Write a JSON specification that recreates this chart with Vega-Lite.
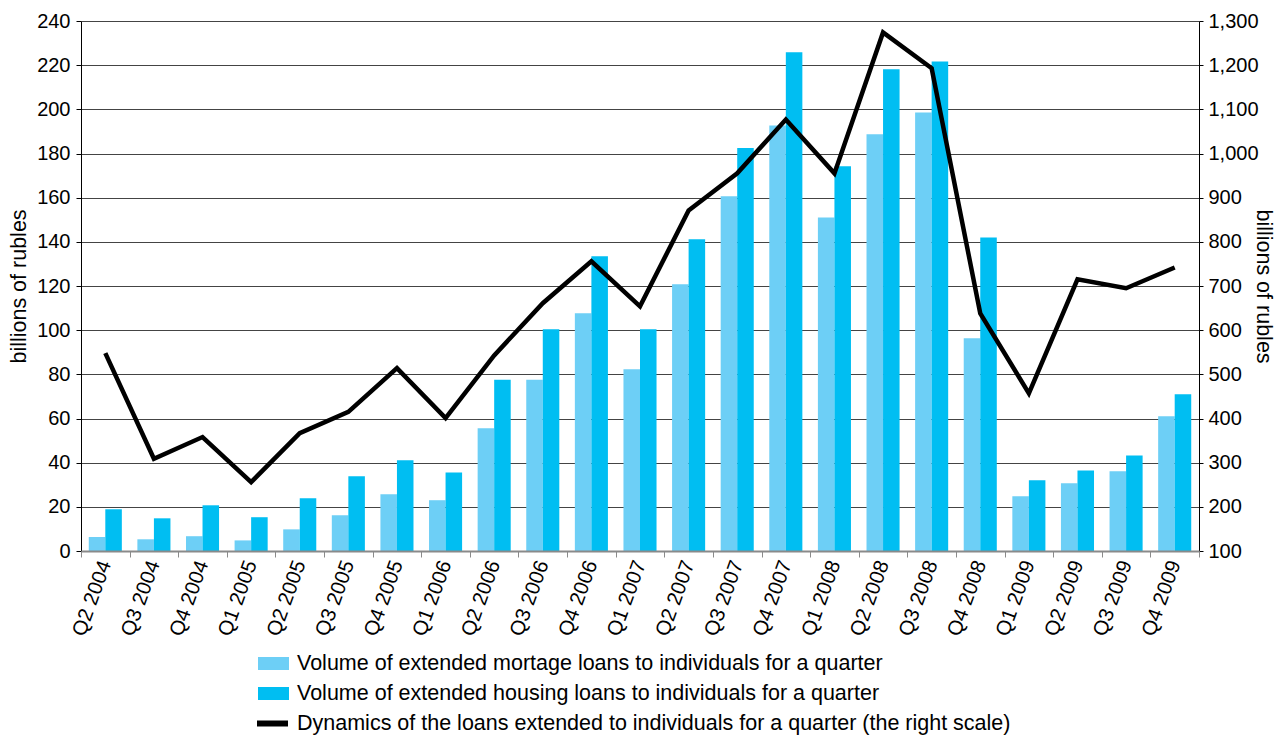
{
  "$schema": "https://vega.github.io/schema/vega-lite/v6.json",
  "width": 1118,
  "height": 530,
  "autosize": {"type": "none"},
  "padding": {"left": 81, "top": 21, "right": 84, "bottom": 184},
  "background": "white",
  "config": {
    "view": {"stroke": null},
    "font": "Liberation Sans",
    "axis": {"labelColor": "#000000", "titleColor": "#000000", "labelFontSize": 20, "titleFontSize": 21.5, "titleFontWeight": "normal", "labelFont": "Liberation Sans", "titleFont": "Liberation Sans"},
    "legend": {"labelFont": "Liberation Sans", "labelFontSize": 21.5, "labelColor": "#000000", "labelLimit": 0}
  },
  "datasets": {
    "bars": [
      {"quarter": "Q2 2004", "series": "Volume of extended mortage loans to individuals for a quarter", "value": 6.3},
      {"quarter": "Q2 2004", "series": "Volume of extended housing loans to individuals for a quarter", "value": 18.9},
      {"quarter": "Q3 2004", "series": "Volume of extended mortage loans to individuals for a quarter", "value": 5.3},
      {"quarter": "Q3 2004", "series": "Volume of extended housing loans to individuals for a quarter", "value": 14.8},
      {"quarter": "Q4 2004", "series": "Volume of extended mortage loans to individuals for a quarter", "value": 6.7},
      {"quarter": "Q4 2004", "series": "Volume of extended housing loans to individuals for a quarter", "value": 20.7},
      {"quarter": "Q1 2005", "series": "Volume of extended mortage loans to individuals for a quarter", "value": 4.8},
      {"quarter": "Q1 2005", "series": "Volume of extended housing loans to individuals for a quarter", "value": 15.3},
      {"quarter": "Q2 2005", "series": "Volume of extended mortage loans to individuals for a quarter", "value": 9.8},
      {"quarter": "Q2 2005", "series": "Volume of extended housing loans to individuals for a quarter", "value": 23.9},
      {"quarter": "Q3 2005", "series": "Volume of extended mortage loans to individuals for a quarter", "value": 16.2},
      {"quarter": "Q3 2005", "series": "Volume of extended housing loans to individuals for a quarter", "value": 33.8},
      {"quarter": "Q4 2005", "series": "Volume of extended mortage loans to individuals for a quarter", "value": 25.7},
      {"quarter": "Q4 2005", "series": "Volume of extended housing loans to individuals for a quarter", "value": 41.1},
      {"quarter": "Q1 2006", "series": "Volume of extended mortage loans to individuals for a quarter", "value": 23.0},
      {"quarter": "Q1 2006", "series": "Volume of extended housing loans to individuals for a quarter", "value": 35.6},
      {"quarter": "Q2 2006", "series": "Volume of extended mortage loans to individuals for a quarter", "value": 55.6},
      {"quarter": "Q2 2006", "series": "Volume of extended housing loans to individuals for a quarter", "value": 77.5},
      {"quarter": "Q3 2006", "series": "Volume of extended mortage loans to individuals for a quarter", "value": 77.5},
      {"quarter": "Q3 2006", "series": "Volume of extended housing loans to individuals for a quarter", "value": 100.4},
      {"quarter": "Q4 2006", "series": "Volume of extended mortage loans to individuals for a quarter", "value": 107.7},
      {"quarter": "Q4 2006", "series": "Volume of extended housing loans to individuals for a quarter", "value": 133.5},
      {"quarter": "Q1 2007", "series": "Volume of extended mortage loans to individuals for a quarter", "value": 82.3},
      {"quarter": "Q1 2007", "series": "Volume of extended housing loans to individuals for a quarter", "value": 100.4},
      {"quarter": "Q2 2007", "series": "Volume of extended mortage loans to individuals for a quarter", "value": 120.8},
      {"quarter": "Q2 2007", "series": "Volume of extended housing loans to individuals for a quarter", "value": 141.2},
      {"quarter": "Q3 2007", "series": "Volume of extended mortage loans to individuals for a quarter", "value": 160.6},
      {"quarter": "Q3 2007", "series": "Volume of extended housing loans to individuals for a quarter", "value": 182.5},
      {"quarter": "Q4 2007", "series": "Volume of extended mortage loans to individuals for a quarter", "value": 192.7},
      {"quarter": "Q4 2007", "series": "Volume of extended housing loans to individuals for a quarter", "value": 225.8},
      {"quarter": "Q1 2008", "series": "Volume of extended mortage loans to individuals for a quarter", "value": 151.0},
      {"quarter": "Q1 2008", "series": "Volume of extended housing loans to individuals for a quarter", "value": 174.2},
      {"quarter": "Q2 2008", "series": "Volume of extended mortage loans to individuals for a quarter", "value": 188.7},
      {"quarter": "Q2 2008", "series": "Volume of extended housing loans to individuals for a quarter", "value": 218.1},
      {"quarter": "Q3 2008", "series": "Volume of extended mortage loans to individuals for a quarter", "value": 198.6},
      {"quarter": "Q3 2008", "series": "Volume of extended housing loans to individuals for a quarter", "value": 221.7},
      {"quarter": "Q4 2008", "series": "Volume of extended mortage loans to individuals for a quarter", "value": 96.3},
      {"quarter": "Q4 2008", "series": "Volume of extended housing loans to individuals for a quarter", "value": 142.0},
      {"quarter": "Q1 2009", "series": "Volume of extended mortage loans to individuals for a quarter", "value": 24.8},
      {"quarter": "Q1 2009", "series": "Volume of extended housing loans to individuals for a quarter", "value": 32.0},
      {"quarter": "Q2 2009", "series": "Volume of extended mortage loans to individuals for a quarter", "value": 30.7},
      {"quarter": "Q2 2009", "series": "Volume of extended housing loans to individuals for a quarter", "value": 36.5},
      {"quarter": "Q3 2009", "series": "Volume of extended mortage loans to individuals for a quarter", "value": 36.1},
      {"quarter": "Q3 2009", "series": "Volume of extended housing loans to individuals for a quarter", "value": 43.2},
      {"quarter": "Q4 2009", "series": "Volume of extended mortage loans to individuals for a quarter", "value": 61.0},
      {"quarter": "Q4 2009", "series": "Volume of extended housing loans to individuals for a quarter", "value": 71.0}
    ],
    "line": [
      {"quarter": "Q2 2004", "loans": 548},
      {"quarter": "Q3 2004", "loans": 309},
      {"quarter": "Q4 2004", "loans": 358},
      {"quarter": "Q1 2005", "loans": 256},
      {"quarter": "Q2 2005", "loans": 367},
      {"quarter": "Q3 2005", "loans": 415},
      {"quarter": "Q4 2005", "loans": 514},
      {"quarter": "Q1 2006", "loans": 401},
      {"quarter": "Q2 2006", "loans": 543},
      {"quarter": "Q3 2006", "loans": 661},
      {"quarter": "Q4 2006", "loans": 756},
      {"quarter": "Q1 2007", "loans": 654},
      {"quarter": "Q2 2007", "loans": 871},
      {"quarter": "Q3 2007", "loans": 955},
      {"quarter": "Q4 2007", "loans": 1077},
      {"quarter": "Q1 2008", "loans": 955},
      {"quarter": "Q2 2008", "loans": 1274},
      {"quarter": "Q3 2008", "loans": 1193},
      {"quarter": "Q4 2008", "loans": 638},
      {"quarter": "Q1 2009", "loans": 457},
      {"quarter": "Q2 2009", "loans": 715},
      {"quarter": "Q3 2009", "loans": 695},
      {"quarter": "Q4 2009", "loans": 742}
    ]
  },
  "layer": [
    {
      "data": {"name": "bars"},
      "mark": {"type": "bar"},
      "encoding": {
        "x": {
          "field": "quarter", "type": "nominal",
          "scale": {"domain": ["Q2 2004","Q3 2004","Q4 2004","Q1 2005","Q2 2005","Q3 2005","Q4 2005","Q1 2006","Q2 2006","Q3 2006","Q4 2006","Q1 2007","Q2 2007","Q3 2007","Q4 2007","Q1 2008","Q2 2008","Q3 2008","Q4 2008","Q1 2009","Q2 2009","Q3 2009","Q4 2009"], "paddingInner": 0, "paddingOuter": 0},
          "axis": {"title": null, "tickBand": "extent", "labelAngle": -70, "labelAlign": "right", "labelBaseline": "middle", "labelPadding": 4, "labelFontSize": 20.5, "tickSize": 6, "tickColor": "#8a8a8a", "domainColor": "#8a8a8a", "domainWidth": 2, "grid": false, "zindex": 1}
        },
        "xOffset": {
          "field": "series", "type": "nominal",
          "scale": {"domain": ["Volume of extended mortage loans to individuals for a quarter", "Volume of extended housing loans to individuals for a quarter"], "paddingInner": 0, "paddingOuter": 0.47}
        },
        "y": {
          "field": "value", "type": "quantitative",
          "scale": {"domain": [0, 240], "nice": false, "zero": true},
          "axis": {"title": "billions of rubles", "values": [0,20,40,60,80,100,120,140,160,180,200,220,240], "grid": true, "gridColor": "#444444", "gridWidth": 1, "domainColor": "#000000", "domainWidth": 1, "tickColor": "#000000", "tickSize": 5, "labelPadding": 6, "titlePadding": 6}
        },
        "color": {
          "field": "series", "type": "nominal",
          "scale": {"domain": ["Volume of extended mortage loans to individuals for a quarter", "Volume of extended housing loans to individuals for a quarter"], "range": ["#6DCFF6", "#00BEF2"]},
          "legend": {"title": null, "orient": "none", "legendX": 177, "legendY": 627, "direction": "vertical", "symbolType": "M-1,-0.42H1V0.42H-1Z", "symbolSize": 961, "symbolStrokeWidth": 0, "rowPadding": 4, "labelOffset": 8}
        }
      }
    },
    {
      "data": {"name": "line"},
      "mark": {"type": "line", "strokeWidth": 4.5, "strokeJoin": "miter"},
      "encoding": {
        "x": {"field": "quarter", "type": "nominal"},
        "y": {
          "field": "loans", "type": "quantitative",
          "scale": {"domain": [100, 1300], "nice": false, "zero": false},
          "axis": {"orient": "right", "title": "billions of rubles", "values": [100,200,300,400,500,600,700,800,900,1000,1100,1200,1300], "format": ",.0f", "grid": false, "domainColor": "#000000", "tickColor": "#000000", "tickSize": 4, "labelPadding": 5, "titlePadding": -7}
        },
        "stroke": {
          "datum": "Dynamics of the loans extended to individuals for a quarter (the right scale)", "type": "nominal",
          "scale": {"range": ["#000000"]},
          "legend": {"title": null, "orient": "none", "legendX": 173, "legendY": 684, "symbolType": "stroke", "symbolSize": 961, "symbolStrokeWidth": 6, "labelOffset": 6}
        }
      }
    }
  ],
  "resolve": {"scale": {"y": "independent"}}
}
